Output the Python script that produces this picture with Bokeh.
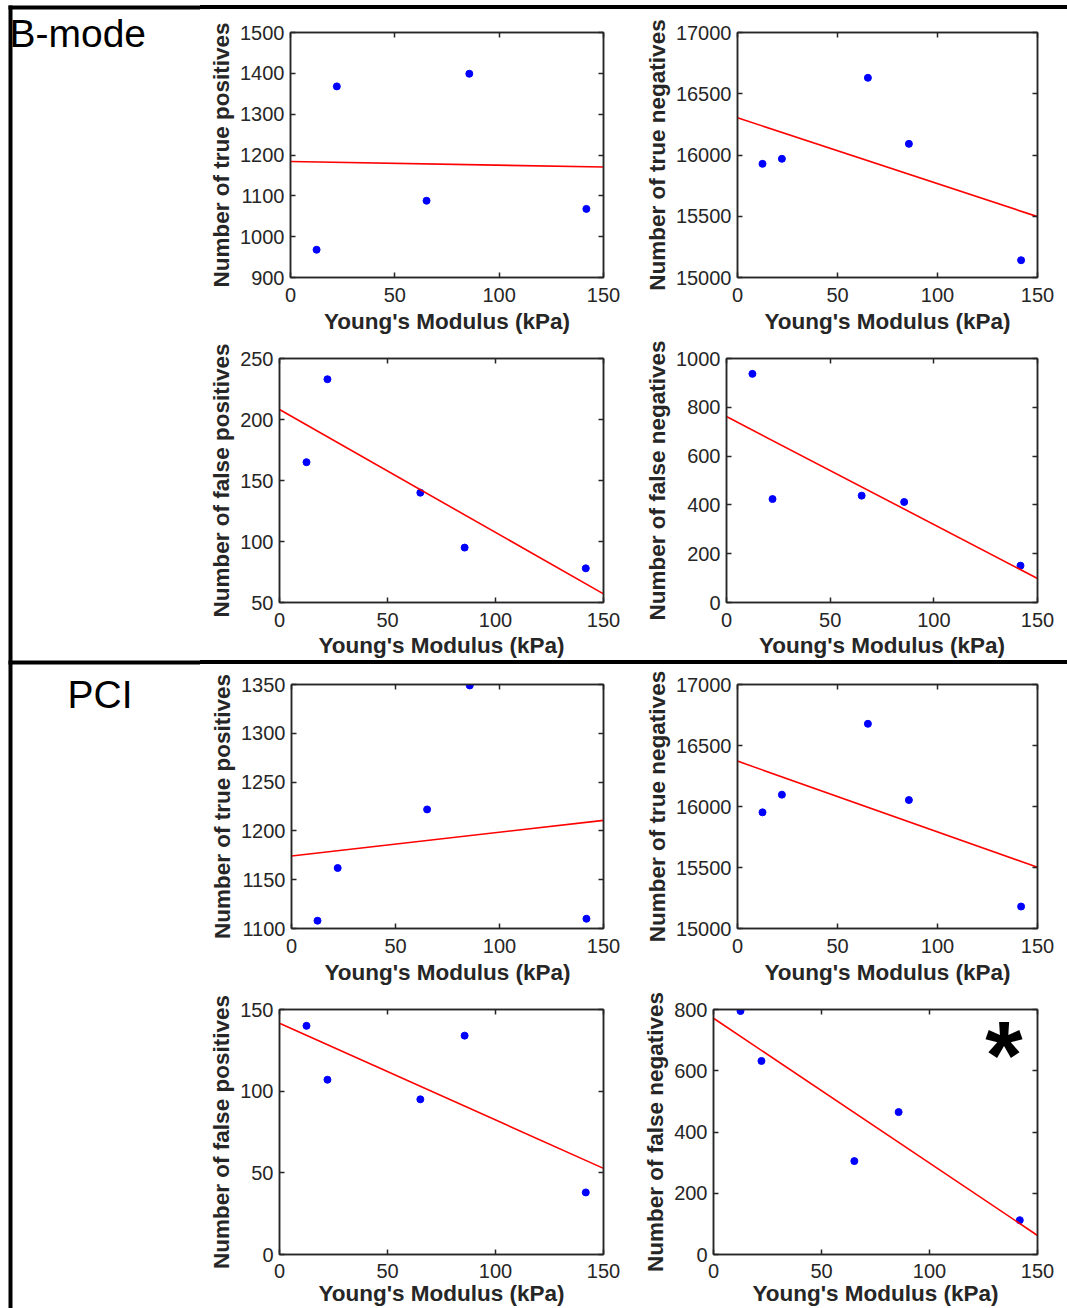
import numpy as np
from bokeh.plotting import figure
from bokeh.layouts import row, column
from bokeh.models import Range1d, LinearAxis, FixedTicker, Label, CustomJSTickFormatter, Div
from bokeh.core.properties import value
from bokeh.embed import file_html
from bokeh.resources import INLINE

# ---------------- data ----------------
modulus = [12.5, 22.2, 65.2, 85.7, 141.8]          # Young's modulus (kPa)

bmode_tp = [968, 1368, 1088, 1399, 1068]
bmode_tn = [15928, 15969, 16630, 16091, 15141]
bmode_fp = [165, 233, 140, 95, 78]
bmode_fn = [937, 424, 438, 412, 151]

pci_tp = [1108, 1162, 1222, 1349, 1110]
pci_tn = [15952, 16097, 16678, 16053, 15180]
pci_fp = [140, 107, 95, 134, 38]
pci_fn = [795, 632, 305, 465, 112]

x_ticks = [0, 50, 100, 150]
x_label = "Young's Modulus (kPa)"
section_labels = ["B-mode", "PCI"]

AX = "#262626"
FONT = "Liberation Sans"


def panel(yvals, ylabel, yrange, yticks, width, height, bl, br, bt, bb,
          tick_stand=10, label_stand=4, star=False):
    p = figure(width=width, height=height,
               x_range=Range1d(0, 150), y_range=Range1d(*yrange),
               output_backend="svg", toolbar_location=None,
               min_border_left=bl, min_border_right=br,
               min_border_top=bt, min_border_bottom=bb)
    p.xgrid.visible = False
    p.ygrid.visible = False
    p.outline_line_color = AX
    p.outline_line_width = 1.5
    p.background_fill_color = "white"
    p.border_fill_color = "white"

    xa = p.xaxis[0]
    ya = p.yaxis[0]
    xa.ticker = FixedTicker(ticks=x_ticks)
    ya.ticker = FixedTicker(ticks=yticks)
    xa.axis_label = x_label
    ya.axis_label = ylabel
    for ax in (xa, ya):
        ax.major_tick_in = 5
        ax.major_tick_out = 0
        ax.minor_tick_line_color = None
        ax.axis_line_color = AX
        ax.axis_line_width = 1.5
        ax.major_tick_line_color = AX
        ax.major_tick_line_width = 1.5
        ax.major_label_text_font = FONT
        ax.major_label_text_font_size = "20px"
        ax.major_label_text_color = AX
        ax.axis_label_text_font = FONT
        ax.axis_label_text_font_size = "22.5px"
        ax.axis_label_text_font_style = "bold"
        ax.axis_label_text_color = AX
    xa.major_label_standoff = tick_stand
    xa.axis_label_standoff = label_stand
    ya.major_label_standoff = 6
    ya.axis_label_standoff = 3

    # mirrored inward ticks on top and right (box on)
    for side, ticks in (("above", x_ticks), ("right", yticks)):
        ax = LinearAxis(ticker=FixedTicker(ticks=ticks),
                        formatter=CustomJSTickFormatter(code="return ''"),
                        major_tick_in=5, major_tick_out=0,
                        minor_tick_line_color=None,
                        axis_line_color=AX, axis_line_width=1.5,
                        major_tick_line_color=AX, major_tick_line_width=1.5,
                        major_label_standoff=0,
                        major_label_text_font_size="1px")
        p.add_layout(ax, side)

    p.scatter(modulus, yvals, size=7, fill_color="#0000ff", line_color="#0000ff")
    coef = np.polyfit(modulus, yvals, 1)
    xs = np.array([0.0, 150.0])
    p.line(xs, np.polyval(coef, xs), line_color="#ff0000", line_width=1.6)

    if star:
        p.add_layout(Label(x=134.5, y=653, text="*", text_font=FONT,
                           text_font_size="96px", text_font_style="bold",
                           text_align="center", text_baseline="alphabetic",
                           text_color="black"))
    return p


LW, RW = 432, 435          # left / right panel figure widths (split at x = 632)
LR = LW - (603 - 200)      # right border of left panels
RR = 1067 - 1037           # right border of right panels

p1 = panel(bmode_tp, "Number of true positives", (900, 1500), list(range(900, 1501, 100)),
           LW, 329, 290 - 200, LR, 23, 61)
p2 = panel(bmode_tn, "Number of true negatives", (15000, 17000), list(range(15000, 17001, 500)),
           RW, 329, 737 - 632, RR, 23, 61)
p3 = panel(bmode_fp, "Number of false positives", (50, 250), list(range(50, 251, 50)),
           LW, 322, 279 - 200, LR, 20, 57, label_stand=3)
p4 = panel(bmode_fn, "Number of false negatives", (0, 1000), list(range(0, 1001, 200)),
           RW, 322, 726 - 632, RR, 20, 57, label_stand=3)
p5 = panel(pci_tp, "Number of true positives", (1100, 1350), list(range(1100, 1351, 50)),
           LW, 328, 291 - 200, LR, 20, 64)
p6 = panel(pci_tn, "Number of true negatives", (15000, 17000), list(range(15000, 17001, 500)),
           RW, 328, 737 - 632, RR, 20, 64)
p7 = panel(pci_fp, "Number of false positives", (0, 150), list(range(0, 151, 50)),
           LW, 316, 279 - 200, LR, 17, 53, tick_stand=9, label_stand=0)
p8 = panel(pci_fn, "Number of false negatives", (0, 800), list(range(0, 801, 200)),
           RW, 316, 713 - 632, RR, 17, 53, tick_stand=9, label_stand=0, star=True)


# left strip with section labels and frame lines
lab = figure(width=200, height=1308, x_range=Range1d(0, 200), y_range=Range1d(1308, 0),
             output_backend="svg", toolbar_location=None, min_border=0,
             x_axis_location=None, y_axis_location=None, outline_line_color=None)
lab.grid.visible = False
lab.quad(left=[8, 8, 8], right=[12, 200, 200], top=[5, 5, 660], bottom=[1308, 9, 664],
         fill_color="black", line_color=None)
lab.text(x=[9, 67], y=[33, 694], text=section_labels, text_font=value(FONT),
         text_font_size="39px", text_color="black", text_baseline="alphabetic",
         text_align="left")


def bar(h, color):
    return Div(text="", width=867, height=h,
               styles={"background-color": color, "width": "867px", "height": f"{h}px",
                       "margin": "0", "padding": "0"})


right = column(bar(5, "white"), bar(4, "black"),
               row(p1, p2), row(p3, p4),
               bar(4, "black"),
               row(p5, p6), row(p7, p8))
layout = row(lab, right)

open("out.html", "w").write(file_html(layout, INLINE))
